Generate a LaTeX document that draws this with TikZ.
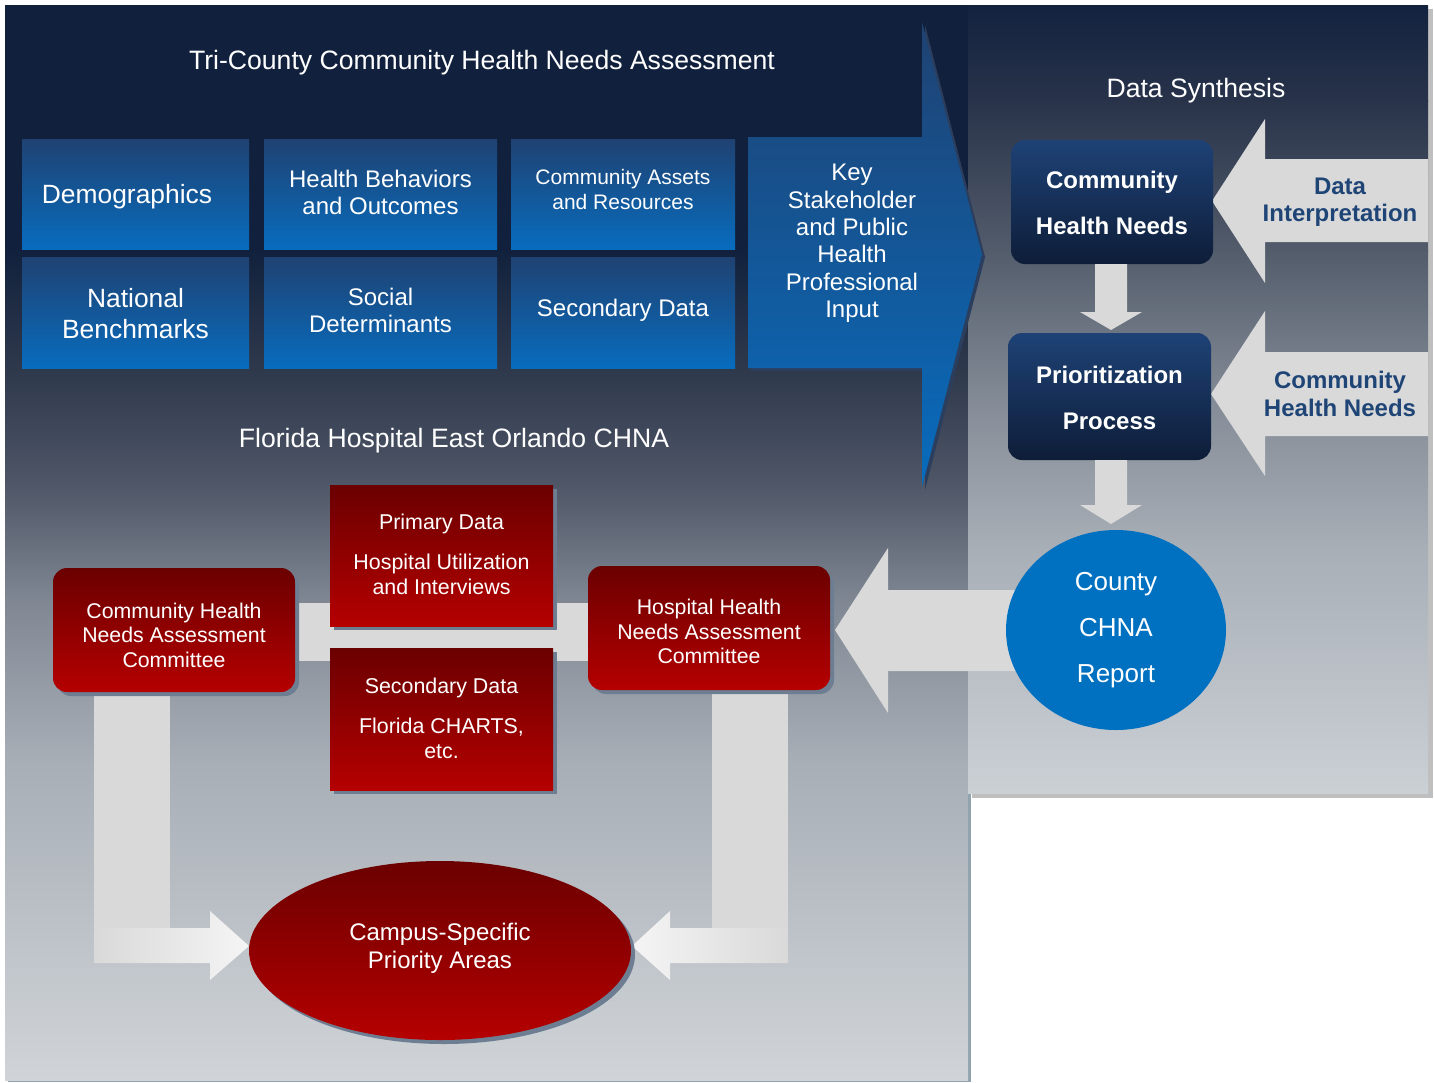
\documentclass[tikz,border=0pt]{standalone}
\usepackage{fontspec}
\setmainfont{Liberation Sans}
\usetikzlibrary{shapes.geometric,shadows}
\newcommand\myfs[2]{\fontsize{#1}{#2}\selectfont}
\definecolor{pA}{HTML}{11213D}
\definecolor{pB}{HTML}{2F394C}
\definecolor{pC}{HTML}{4D5566}
\definecolor{pD}{HTML}{7F8793}
\definecolor{pE}{HTML}{A8AEB6}
\definecolor{pF}{HTML}{D0D4D8}
\definecolor{rA}{HTML}{13223F}
\definecolor{rB}{HTML}{28334A}
\definecolor{rC}{HTML}{535C6B}
\definecolor{rD}{HTML}{838B96}
\definecolor{rE}{HTML}{A9AFB7}
\definecolor{rF}{HTML}{CBD0D5}
\definecolor{blueTop}{HTML}{1F4272}
\definecolor{blueBot}{HTML}{086CBE}
\definecolor{navyTop}{HTML}{1E4276}
\definecolor{navyBot}{HTML}{0E1D38}
\definecolor{redTop}{HTML}{6B0000}
\definecolor{redBot}{HTML}{B50000}
\definecolor{redShadow}{HTML}{6E7E92}
\definecolor{grayArrow}{HTML}{D9D9D9}
\definecolor{arrowText}{HTML}{1F4577}
\definecolor{reportBlue}{HTML}{0071C0}
\definecolor{panelShadow}{HTML}{8FA3AE}
\definecolor{keyShadow}{HTML}{2B3E5E}
\definecolor{rightShadow}{HTML}{BFBFBF}
\tikzset{
  bluebox/.style={rectangle, top color=blueTop, bottom color=blueBot, inner sep=0pt},
  navybox/.style={rectangle, rounded corners=14pt, top color=navyTop, bottom color=navyBot, inner sep=0pt},
  redbox/.style={rectangle, top color=redTop, bottom color=redBot, inner sep=0pt,
     drop shadow={shadow xshift=4pt, shadow yshift=-4pt, fill=redShadow, opacity=1}},
  boxtext/.style={text=white, align=center, inner sep=0pt},
  navytext/.style={boxtext, font=\bfseries\myfs{24}{46}},
  arrowlabel/.style={text=arrowText, align=center, font=\bfseries\myfs{24}{27.5}},
  titletext/.style={text=white, font=\myfs{26.6}{30}},
  grayarrow/.style={fill=grayArrow}
}
\begin{document}
\begin{tikzpicture}[x=1pt,y=-1pt]
\useasboundingbox (0,0) rectangle (1434,1082);
\fill[white] (0,0) rectangle (1434,1082);
% ---- left panel
\fill[panelShadow] (8,8) rectangle (971,1082);
\fill[pA] (5,5) rectangle (968,251);
\shade[top color=pA, bottom color=pB] (5,250) rectangle (968,371);
\shade[top color=pB, bottom color=pC] (5,370) rectangle (968,481);
\shade[top color=pC, bottom color=pD] (5,480) rectangle (968,601);
\shade[top color=pD, bottom color=pE] (5,600) rectangle (968,761);
\shade[top color=pE, bottom color=pF] (5,760) rectangle (968,1080);
% ---- right panel
\fill[rightShadow] (972,9) rectangle (1433,798);
\shade[top color=rA, bottom color=rB] (968,5) rectangle (1428,101);
\shade[top color=rB, bottom color=rC] (968,100) rectangle (1428,251);
\shade[top color=rC, bottom color=rD] (968,250) rectangle (1428,401);
\shade[top color=rD, bottom color=rE] (968,400) rectangle (1428,551);
\shade[top color=rE, bottom color=rF] (968,550) rectangle (1428,793);

% ---- titles
\node[titletext] (tri) at (482,63) {Tri-County Community Health Needs Assessment};
\node[titletext] (synth) at (1196,91) {Data Synthesis};
\node[titletext] (fhchna) at (454,441) {Florida Hospital East Orlando CHNA};

% ---- big blue arrow
\fill[keyShadow] (751,140) -- (925,140) -- (925,25) -- (985,257) -- (925,490) -- (925,371) -- (751,371) -- cycle;
\shade[top color=blueTop, bottom color=blueBot]
  (748,137) -- (922,137) -- (922,22) -- (982,254.5) -- (922,487) -- (922,368) -- (748,368) -- cycle;
\node[boxtext, font=\myfs{24}{27.4}] (key) at (852,243.5)
  {Key\\Stakeholder\\and Public\\Health\\Professional\\Input};

% ---- blue boxes
\node[bluebox, minimum width=227pt, minimum height=110pt] (demo) at (135.5,194) {};
\node[bluebox, minimum width=233pt, minimum height=110pt] (behav) at (380.5,194) {};
\node[bluebox, minimum width=224pt, minimum height=110pt] (assets) at (623,194) {};
\node[bluebox, minimum width=227pt, minimum height=111pt] (natl) at (135.5,312.5) {};
\node[bluebox, minimum width=233pt, minimum height=111pt] (social) at (380.5,312.5) {};
\node[bluebox, minimum width=224pt, minimum height=111pt] (secdata) at (623,312.5) {};
\node[boxtext, font=\myfs{26.4}{30}] (demoT) at (127,197) {Demographics};
\node[boxtext, font=\myfs{24}{27}] (behavT) at (380.5,192) {Health Behaviors\\and Outcomes};
\node[boxtext, font=\myfs{21}{25}] (assetsT) at (623,189) {Community Assets\\and Resources};
\node[boxtext, font=\myfs{26.4}{31}] (natlT) at (135.5,313.5) {National\\Benchmarks};
\node[boxtext, font=\myfs{24}{27}] (socialT) at (380.5,310.5) {Social\\Determinants};
\node[boxtext, font=\myfs{24}{28}] (secdataT) at (623,310.5) {Secondary Data};

% ---- right panel arrows
\fill[grayarrow] (1428,159) -- (1265,159) -- (1265,119) -- (1212,201) -- (1265,283) -- (1265,242) -- (1428,242) -- cycle;
\fill[grayarrow] (1428,352) -- (1265,352) -- (1265,311) -- (1211,394) -- (1265,476) -- (1265,436) -- (1428,436) -- cycle;
\node[arrowlabel] (interp) at (1340,202) {Data\\Interpretation};
\node[arrowlabel] (chnlabel) at (1340,394) {Community\\Health Needs};

% ---- right panel boxes
\node[navybox, minimum width=202pt, minimum height=124pt] (chn) at (1112,202) {};
\node[navybox, minimum width=203pt, minimum height=127pt] (prio) at (1109.5,396.5) {};
\node[navytext] (chnT) at (1112,203) {Community\\Health Needs};
\node[navytext] (prioT) at (1109.5,397.5) {Prioritization\\Process};
\fill[grayarrow] (1095,264) -- (1127,264) -- (1127,312) -- (1142,312) -- (1111,330) -- (1080,312) -- (1095,312) -- cycle;
\fill[grayarrow] (1095,460) -- (1127,460) -- (1127,505) -- (1142,505) -- (1111,524) -- (1080,505) -- (1095,505) -- cycle;

% ---- county arrow and report
\fill[grayarrow] (1040,590) -- (888,590) -- (888,548) -- (835,630) -- (888,713) -- (888,671) -- (1040,671) -- cycle;
\node[ellipse, fill=reportBlue, minimum width=220pt, minimum height=200pt, inner sep=0pt,
      text=white, align=center, font=\myfs{26}{46}] (report) at (1116,630) {County\\CHNA\\Report};

% ---- lower connectors (behind boxes)
\fill[grayArrow] (295,603) rectangle (588,661);
\fill[grayArrow] (94,680) rectangle (170,929);
\shade[left color=grayArrow, right color=white!96!black]
  (94,928) -- (210,928) -- (210,911) -- (249,946) -- (210,980) -- (210,963) -- (94,963) -- cycle;
\fill[grayArrow] (712,680) rectangle (788,929);
\shade[right color=grayArrow, left color=white!96!black]
  (788,928) -- (670,928) -- (670,911) -- (632,946) -- (670,980) -- (670,963) -- (788,963) -- cycle;

% ---- red boxes
\node[redbox, rounded corners=14pt, minimum width=242pt, minimum height=124pt] (cc) at (174,630) {};
\node[redbox, rounded corners=14pt, minimum width=242pt, minimum height=124pt] (hc) at (709,628) {};
\node[redbox, minimum width=223pt, minimum height=141pt] (prim) at (441.5,555.5) {};
\node[redbox, minimum width=223pt, minimum height=142pt] (sec) at (441.5,719) {};
\node[redbox, ellipse, minimum width=382pt, minimum height=179pt] (campus) at (440,950.5) {};
\node[boxtext, font=\myfs{21.3}{24.5}] (ccT) at (174,635) {Community Health\\Needs Assessment\\Committee};
\node[boxtext, font=\myfs{21.3}{24.5}] (hcT) at (709,631.5) {Hospital Health\\Needs Assessment\\Committee};
\node[boxtext, font=\myfs{21.4}{25}] (primT) at (441.5,554.5) {Primary Data\\[15pt]Hospital Utilization\\and Interviews};
\node[boxtext, font=\myfs{21.4}{25}] (secT) at (441.5,718) {Secondary Data\\[15pt]Florida CHARTS,\\etc.};
\node[boxtext, font=\myfs{24}{28}] (campusT) at (440,948.5) {Campus-Specific\\Priority Areas};
\end{tikzpicture}
\end{document}
